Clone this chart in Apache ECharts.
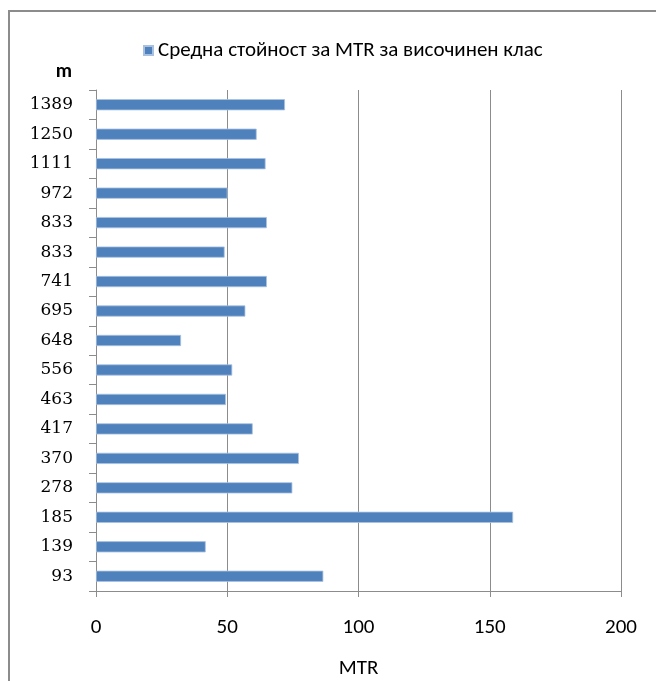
<!DOCTYPE html>
<html>
<head>
<meta charset="utf-8">
<style>
  html, body { margin: 0; padding: 0; background: #fff; }
  #chart { width: 656px; height: 681px; }
</style>
<script src="https://cdn.jsdelivr.net/npm/echarts@6/dist/echarts.min.js"></script>
</head>
<body>
<div id="chart"></div>
<script>
// Height classes (m), listed bottom to top as on the axis
const heightClasses = ['93', '139', '185', '278', '370', '417', '463', '556', '648',
  '695', '741', '833', '833', '972', '1111', '1250', '1389'];
// Mean MTR per height class
const mtrMean = [86.6, 41.8, 158.9, 74.8, 77.3, 59.7, 49.5, 51.9, 32.4,
  56.9, 65.1, 49.0, 65.1, 50.1, 64.6, 61.2, 72.0];
const xTicks = [0, 50, 100, 150, 200];
const seriesName = 'Средна стойност за MTR за височинен клас';

const chart = echarts.init(document.getElementById('chart'));
const sans = "Carlito, 'Liberation Sans', Arial, sans-serif";
const serif = "'DejaVu Serif', 'Liberation Serif', serif";

chart.setOption({
  animation: false,
  backgroundColor: '#fff',
  graphic: [{
    type: 'rect',
    shape: { x: 9, y: 11, width: 720, height: 720 },
    style: { fill: 'none', stroke: '#8c8c8c', lineWidth: 2 },
    silent: true
  }],
  legend: {
    top: 35,
    left: 138,
    icon: 'rect',
    itemWidth: 9,
    itemHeight: 9,
    itemGap: 4,
    textStyle: { fontFamily: sans, fontSize: 21, color: '#000' },
    data: [seriesName]
  },
  grid: { left: 96, right: 35, top: 90, bottom: 90, containLabel: false, outerBoundsMode: 'none' },
  xAxis: {
    type: 'value',
    min: xTicks[0],
    max: xTicks[xTicks.length - 1],
    interval: 50,
    name: 'MTR',
    nameLocation: 'middle',
    nameGap: 67,
    nameTextStyle: { fontFamily: sans, fontSize: 21, color: '#000' },
    axisLine: { show: true, lineStyle: { color: '#8c8c8c', width: 1 } },
    axisTick: { show: true, length: 6, lineStyle: { color: '#8c8c8c' } },
    axisLabel: { fontFamily: sans, fontSize: 21, color: '#000', margin: 26 },
    splitLine: { show: true, lineStyle: { color: '#8c8c8c', width: 1 } }
  },
  yAxis: {
    type: 'category',
    data: heightClasses,
    name: 'm',
    nameLocation: 'end',
    nameGap: 8,
    nameTextStyle: { fontFamily: sans, fontSize: 20, fontWeight: 'bold', color: '#000',
      align: 'right', verticalAlign: 'bottom', padding: [0, 24, 0, 0] },
    axisLine: { show: true, lineStyle: { color: '#8c8c8c', width: 1 } },
    axisTick: { show: true, length: 7, alignWithLabel: false, lineStyle: { color: '#8c8c8c' } },
    axisLabel: { fontFamily: serif, fontSize: 17, color: '#000', margin: 23, interval: 0 },
    splitLine: { show: false }
  },
  series: [{
    name: seriesName,
    type: 'bar',
    data: mtrMean,
    barWidth: '38%',
    itemStyle: { color: '#4f81bd', borderColor: '#a9c1e0', borderWidth: 0.8 }
  }]
});
</script>
</body>
</html>
